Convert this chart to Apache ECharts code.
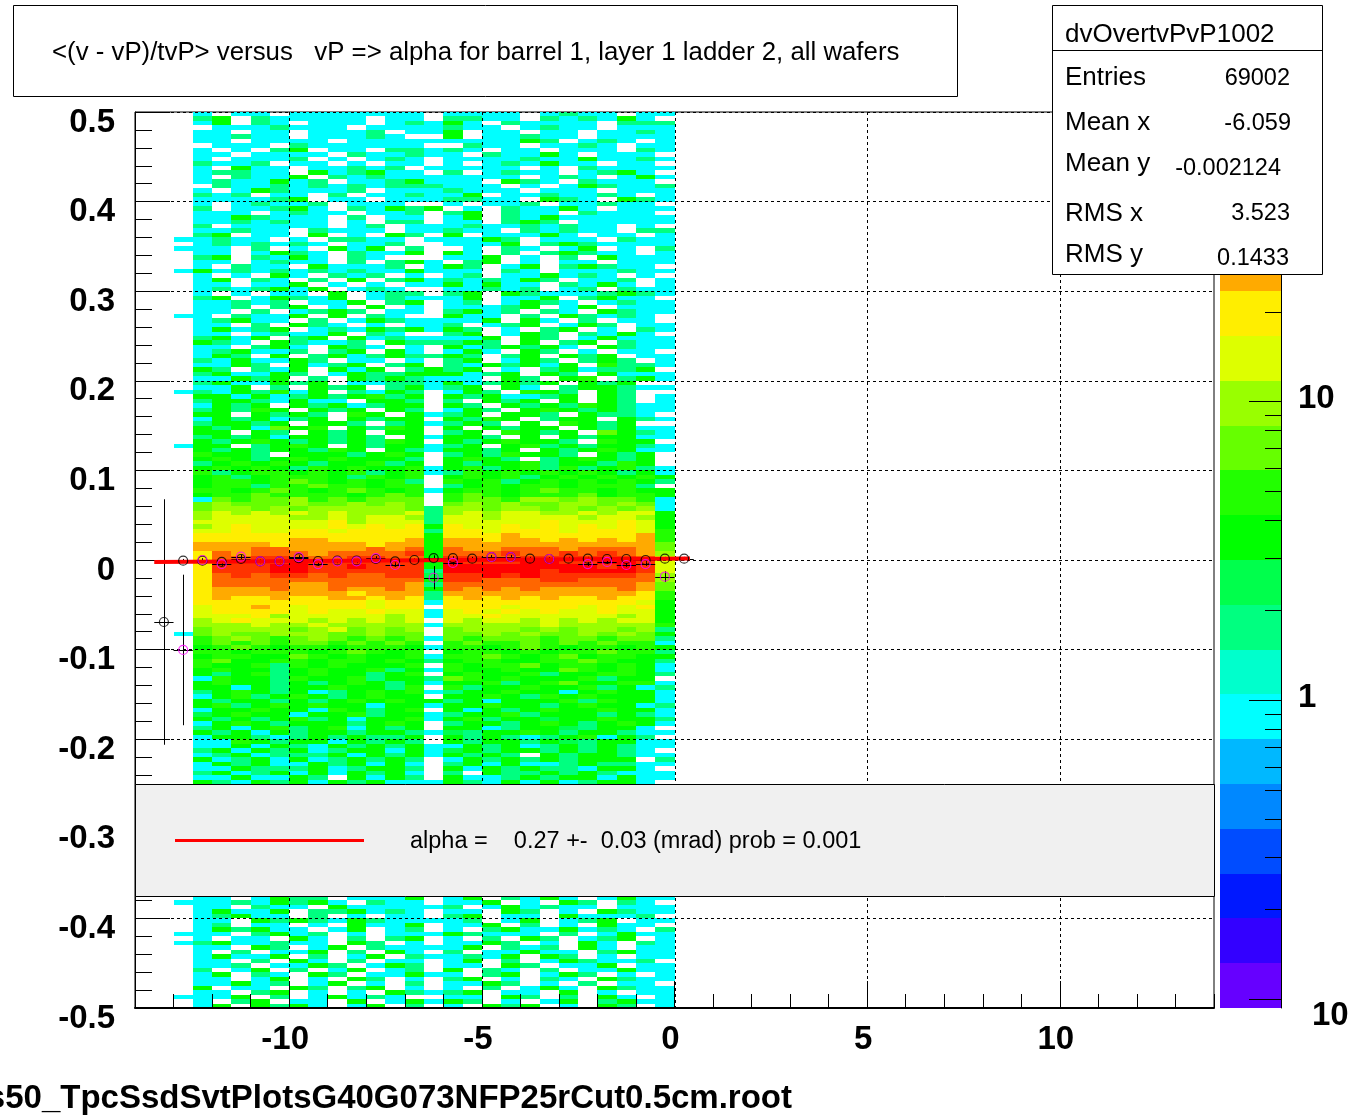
<!DOCTYPE html>
<html>
<head>
<meta charset="utf-8">
<title>dvOvertvPvP1002</title>
<style>
  html, body { margin: 0; background: #fff; }
  #chart { width: 1349px; height: 1120px; }
</style>
<script src="https://cdn.jsdelivr.net/npm/echarts@6/dist/echarts.min.js"></script>
</head>
<body>
<div id="chart"></div>
<script>
/** colour band colours, bottom of the palette to top */
const levelColors = ["#6600ff", "#3300ff", "#0018ff", "#004cff", "#0088ff", "#00b8ff", "#00ffff", "#00ffcc", "#00ff80", "#00ff4c", "#00ff00", "#22ff00", "#66ff00", "#99ff00", "#ddff00", "#ffee00", "#ffaa00", "#ff6600", "#ff3300", "#ff0000"];

/** bin sizes of the 2d histogram */
const binWidth = 0.5;
const binHeight = 0.005;
const firstBinX = -13;

/**
 * colour level per cell, base 36, "." = empty.
 * one row per y bin from 0.5 down, columns from x = -13 to 0:
 * first column, next 12, the sparse column at -6.5, last 12
 */
const upperRows = [
  ". 6.66.6666666 . 6666.6866.66",
  ". 8a.866666.66 . 8866.8686a6.",
  ". 6a.86.666.68 6 a6.86666.888",
  ". .6668666.666 6 866.6866.666",
  ". 66.66.6668.6 6 a.66.66.6686",
  ". 66866.66686. . a.66866.6666",
  ". 66.6666.6666 6 6666a8.686.6",
  ". .666.8666666 . .866.6686.66",
  ". 6.6.8a.66.88 6 86.66.666.86",
  ". 66.6666.8668 6 6.866a6.666.",
  ". 6.6668.6.686 . 6666866a6686",
  ". 8668.66.6.66 . 6.686a66.66.",
  ". 6.a66.66868. 6 6666.6.86666",
  ". 68866.a68a66 . 8.6866.68a6.",
  ". 6.866a.86866 6 6666.686.6a6",
  ". 6866a68.668a 6 66.a86.8666.",
  ". .86686868688 8 666.6.6a8668",
  ". 6.6a86668.66 6 8666.666.666",
  ". 868.66.8.668 6 6a.6686686.6",
  ". 66668a.66.66 6 8866.a86.a86",
  ". 6.68668.666. . 6.668.66866.",
  ". 8.668a6.86a8 a .6.866a6.666",
  ". 666.6866.668 . 8a.866.8666.",
  ". 66a8666.8.66 . 6a.86a666666",
  ". 6686866.6.88 . 66.8a8.66666",
  ". 8.66666.68.6 6 686686866.6.",
  ". 66866.8666.6 6 866.86866.88",
  ". 8a.66.a.6.a8 . a.666a6.66.6",
  "6 6866.6.8866. 6 66a8.666.866",
  ". 6868686.668. . 666a.8a86666",
  "6 66.8.6.a6a.8 . .6.86.6a.6.8",
  ". 66.6a86.866a . a6.8.8a866.6",
  ". 8a.86a6.86.. . 66a.6.8.a666",
  ". 66.6866.8.8a 6 .8a.6.66.666",
  ". 6.866.a6668. 6 a8.6a.8a866.",
  "6 a6868686866a 6 66.86.666866",
  ". 6.6.a6.868.6 . 68.66a686.6.",
  ". 6a.86.8.a.8a 6 8686a8.668.6",
  ". 66.66a.6.6.6 6 a6a66.86a6.6",
  ". 6868a6a.686. . 66868.68.866",
  ". 6.6.66.a.688 . 8a.a86668a86",
  ". 8a.6a86a.686 6 6a.66a.8a66.",
  ". 66868.66a.8a . 68.6a86.6866",
  ". 668.8a.6.a.6 . 6668a.6a.666",
  ". 66.8.68a8.66 . 8a68.86.a866",
  "6 6.866a.a.86. . a66.8.a8686.",
  ". 68a66.8.6a86 6 66a.a6.8.66.",
  ". 66.8.a86.6.6 6 8.68a.6a8.66",
  ". 6a68a.686a8a 6 a8.6.8a.6.86",
  ". 66.6866a.86. . 8a.6a8.86a6.",
  ". 8a6a.8a.a686 6 66a.a8.6a666",
  ". a86.a8668.a8 8 8a8.a.8a.866",
  ". 66.8a6.a86.6 . a68a8a6.a866",
  ". 68a668.8a.a6 . 6a6.a8.6.66.",
  ". 6a8.a.8a68a8 8 a8.8a.a8a.66",
  ". 86a66a8.66.6 . 8a.6a8.8a8.6",
  ". 66a8.a68a.8a . 86a8a6a.b886",
  ". a8.86a.a6a.8 a 8a.6.8a688a.",
  ". 8a66a8.6a88a a a68a.a8.a666",
  ". 66a8a.8.a8a8 6 66.a8.ab.8a6",
  ". 8a66a8a.6688 6 a68a8a.a8a..",
  ". 66a.8.a8a.8a 6 8a.a6.8aa866",
  "6 86a8b6a.86a8 . 6a8.ba8.a8..",
  ". aa6a68a8ab8a . a8a668a.a8.6",
  ". 8aa86a66.aa8 . 8.a8a.a.a8.6",
  ". 6a8a.a8a68aa . a8.a8a8ba866",
  ". 8a8ba.a8a.a8 . 6a8.aba8a866",
  ". aa.a8a8.ba.a 6 8a.aa8.a886.",
  ". 6a8a68a.a8aa . a8ba.8aa.a86",
  ". 8aa8a.aa8.8a 6 8a8.a.ba8a..",
  ". a8a6cab.a8ba . a.a8aa.a8a66",
  ". aa.a8.a8a.aa . 8a.ba8a.ca86",
  ". 8a8a6aa8a8.a 6 aa8.a.a8aa66",
  ". a8aba8a8a8ba . a8abaa8.baa.",
  "6 aa.8aba.a8aa 6 8a.ab8a8aa86",
  ". a8a8aa8ba.a8 6 aa8a.a8aba66",
  ". baa8.aaa8aba . 8a8baa8.a8a.",
  ". aba8ababaaa8 . aba8.8aba8a.",
  ". 8ababa8aab8a . a8aab8aa8ba.",
  ". ababa8babaab 6 ab8ab8b8ab86",
  ". b8abbabab8ab 6 8babababa8a6",
  ". ab8abbba8bab . abab8abababa",
  ". abbabcbabab8 . bab8abababa8",
  ". abb8bbcbbabb . 8ababbabbb8.",
  ". bbabcbabcbab 6 abbabcbbabaa",
  ". abbcbbbbabcb . bcbabbbcabba",
  ". 6cbccdbcbccc . bccbddcdccb6",
  ". cdcccdccdcdc . cdcdccddcdc6",
  ". cddcdcdddddc 8 ddcddcdcdcd6",
  ". dededededdde 8 dedeeddedeea",
  ". deeeeddedeed 8 eedeeeedeeda",
  ". eeeeeeefdeee 8 eeeeefeeefea",
  ". defeeeefefef a feefefefefea",
  ". eefeeffeffff 8 ffefffefffeb",
  ". ffffffffffff a fffgffffffgb",
  ". fffffggffffg a ggfggfgfgfgb",
  ". ggggfggggfgg a gggggggggggc",
  ". ggghhgggghgh a hgghhhghhhgc",
  ". fhghhhghhhhi a hhhihhihihgd",
  ". fhhiihhhiihh a iihhiiiiiihe",
  ". fiiiijiiiiii a jiiijjiijjie",
  ". fiiijjiijiii a jjjjjjjjijie",
  ". fiiijjiiiiii 8 jjjjjijjjjie",
  ". fhihiihihhii 9 iijijiiiiihd",
  ". fhhhhhhhhhhh a iihhhiihhhhd",
  ". fhhhhgghhhhg 8 hhhhhhhhhhgc",
  ". fggghgghgghg a hghghgggghgc",
  ". fgggggggfggg 8 ggggggggggfb",
  ". fgffgffggfgf 8 fgfgfgffgffb",
  ". fffffffffeff 6 ffffffffffea",
  ". effgfefffeff . fffefffefefa",
  ". effffefeefee 6 efefefeefeea",
  ". eeefdeeeeede 6 eefeeeeeedea",
  ". defeeededede . edeedededeea",
  ". dddeddeddddd 6 dddddedddddb",
  ". cddddcdecdcd . cdddcdcddcd8",
  "6 cdccdddccdcc . ccdcdccdcdca",
  ". bcdcbcdcbcbc 6 cbcccbccbcc8",
  ". bcbcbccbcbcb . bcbbcbcbcbb6",
  ". abcbabbabbba 6 bbabcbabbaba",
  ". bbabbbabcbab . abbababbcbb8",
  ". abbaacbabaab 6 bbcbabcabbaa",
  ". bcaabbabbaba 8 abbaabbcbaa8",
  ". baab8babaaab . babbcabbaba6",
  ". abaa8abaab8a 6 baabaacbaba6",
  ". a8ab8abaa8ab . abaab8aabba8",
  ". 6baa8baab8aa 8 cbabaaab8aa.",
  ". abaa8a8aba8a 6 aab8abcaabb6",
  ". aa6a8aabaa8b . b8aabaab8a68",
  ". 8aba8a68abab 6 8aabaa6abaa6",
  ". 6ab8aba8abaa . aaba8babaaa6",
  ". a8aa8a8ababa a 8a6aaab8baa6",
  ". ab8ababaa6aa 6 aabaa8abaa68",
  ". 6aabaa6ba8ab . a6a8abaabaa6",
  ". 9abaa6aab8aa 6 8aab8aaa8a86",
  ". a8a8ab8a6aab 6 ab8aa9aabaa8",
  ". 6aba8aaa8aba . 8aa8aba8aba6",
  ". 8a6ab8ab6a8a . aa68aa98aa6.",
  ". a8a6a8aa8aa8 6 98aaba8aa866",
  ". 6aa868a8a88a . a8a868ab6a8.",
  ". 66ba8aa6a8a8 . a8aa8a98aa66",
  ". 66a6a86a8a8a 6 6a8a68a8a866",
  ". 8a6a8a68aa6a 6 9a8aa8a8a86.",
  ". 68a6888a6a8a 6 a8a8.a8aa866",
  ". a68a6a68a8a8 . 6a8a8a8aaa.8",
  ". 6a8a66a8a6a6 . 8a6a668a8866",
  ". 66a888a68aa8 . a6a8a886aa6.",
  ". 8a68a6a6a8a6 . 8.a88a8a8666",
  ". 66a66a8.a6a8 . a668a8aa6a66",
  ". a86a8a6a8a66 6 a86a6a68aa6.",
  ". 6a86a66a66a6 . 66a86.6a86a8"
];

/** rows below the stats legend, y = -0.375 to -0.5 */
const lowerRows = [
  ". 66.6a88.666a . 6a.86a6.6a66",
  "6 6686a8a6.866 . 66a.6.a8.86.",
  ". 66.866.a6666 6 8.6a6866.666",
  ". 6a66a.88a686 . 66.a8.6.a866",
  ". 68a66.8.6.66 . 8a.66.a6668.",
  ". 66.a8a86a866 6 68.6a.68a.66",
  ". 68.66.6.a66a . 66a.8.6.a66.",
  ". 6a8a66.6a.68 . 6.8a66a686.8",
  "6 66.8a68.6.66 6 a8666.8.6a66",
  ". 6.66.a6.8.8a . 6.8.a8.68a.6",
  "6 8a66866.a8.6 . 66a8.6.a6.86",
  ". 66.a8.6a.866 6 6a.868.a6.66",
  ". 6.8.66a.8.a6 . 8.66a66.8a66",
  ". 6a66a.8.6a.8 6 686a.a8.6.66",
  ". 66.8.a6.8.66 . 6a.8.6a8668.",
  ". 668.66a8.6a8 . 66.a8.66a.66",
  ". 8.6a.8.6a.68 . a.86.8.66a66",
  ". 6a.86.a8.66a 6 6.8a.6a8.6.6",
  ". 66.6a.6.a8.6 . 8a.6.86.a866",
  ". 66a68.6a.6.8 . 66a8.6.8.66.",
  ". a.66.a8.8a.6 . 6.8.6a6.a866",
  ". 66.8a.6.6.a8 6 8a.66.a.6.66",
  "6 66a.8.6a686. . 66.a8.8.a6.6",
  ". 6.8a.66.a.6a 6 a8.6.6a.8a66",
  ". 6a.a8a6.6a.8 . 6.a8a.6.a8.6"
];

/** profile points, black */
const blackX = [-13.25, -12.75, -12.25, -11.75, -11.25, -10.75, -10.25, -9.75, -9.25, -8.75, -8.25, -7.75, -7.25, -6.75, -6.25, -5.75, -5.25, -4.75, -4.25, -3.75, -3.25, -2.75, -2.25, -1.75, -1.25, -0.75, -0.25, 0.25];
const blackY = [-0.0692, -0.0008, -0.0008, -0.0022, 0.0011, -0.0015, -0.0015, 0.0022, -0.0011, -0.0008, -0.0008, 0.0011, -0.0015, 0, 0.0022, 0.0022, 0.0015, 0.0033, 0.0033, 0.0015, 0.0011, 0.0015, 0.0015, 0.0011, 0.0011, 0, 0.0015, 0.0015];
const blackErr = [0.137, 0.002, 0.002, 0.002, 0.002, 0.002, 0.002, 0.002, 0.002, 0.002, 0.002, 0.002, 0.002, 0.002, 0.003, 0.002, 0.002, 0.002, 0.002, 0.002, 0.002, 0.002, 0.002, 0.002, 0.002, 0.002, 0.002, 0.002];

/** profile points, magenta; null where none can be seen */
const magentaX = [-12.75, -12.25, -11.75, -11.25, -10.75, -10.25, -9.75, -9.25, -8.75, -8.25, -7.75, -7.25, -6.75, -6.25, -5.75, -5.25, -4.75, -4.25, -3.75, -3.25, -2.75, -2.25, -1.75, -1.25, -0.75, -0.25];
const magentaY = [-0.1004, 0, -0.0045, 0.0037, -0.0015, -0.0015, 0.0033, -0.0045, -0.0015, -0.0015, 0.0022, -0.0056, null, -0.0198, -0.0033, null, 0.0033, 0.0033, null, 0.0011, null, -0.0045, -0.0022, -0.0056, -0.0045, -0.0186];
const magentaErr = [0.084, 0.002, 0.002, 0.002, 0.002, 0.002, 0.002, 0.002, 0.002, 0.002, 0.002, 0.002, 0, 0.013, 0.002, 0, 0.002, 0.002, 0, 0.002, 0, 0.002, 0.002, 0.002, 0.002, 0.006];

/** straight line fit */
const fitX = [-13.5, 0.4];
const fitY = [-0.0022, 0.0017];

/** axis ticks */
const xMajorTicks = [-10, -5, 0, 5, 10];
const colorMajorTicks = [0.1, 1, 10];
const colorMinorTicks = [0.2, 0.3, 0.4, 0.5, 0.6, 0.7, 0.8, 0.9, 2, 3, 4, 5, 6, 7, 8, 9, 20, 30, 40, 50, 60, 70, 80, 90];

const sans = "Liberation Sans";

/** turn the typed rows into cells [x, y top, level] */
const cells = [];
const addRows = (rows, firstRow) => {
  rows.forEach((row, r) => {
    row.replace(/ /g, "").split("").forEach((ch, c) => {
      if (ch === ".") return;
      cells.push([firstBinX + c * binWidth, 0.5 - (firstRow + r) * binHeight, parseInt(ch, 36)]);
    });
  });
};
addRows(upperRows, 0);
addRows(lowerRows, 175);

/** histogram cell, snapped to whole pixels like the original */
const renderCell = (params, api) => {
  const x = api.value(0);
  const y = api.value(1);
  const a = api.coord([x, y]);
  const b = api.coord([x + binWidth, y - binHeight]);
  const x0 = Math.round(a[0]);
  const y0 = Math.round(a[1]);
  return {
    type: "rect",
    shape: { x: x0, y: y0, width: Math.round(b[0]) - x0, height: Math.round(b[1]) - y0 },
    style: { fill: levelColors[api.value(2)] },
  };
};

/** dashed vertical grid line */
const renderGridX = (params, api) => {
  const v = api.value(0);
  const a = api.coord([v, 0.5]);
  const b = api.coord([v, -0.5]);
  return {
    type: "line",
    shape: { x1: Math.round(a[0]) + 0.5, y1: a[1], x2: Math.round(a[0]) + 0.5, y2: b[1] },
    style: { stroke: "#000", lineWidth: 1, lineDash: [3, 3] },
  };
};

/** error bars: one vertical, one horizontal, on whole pixels */
const renderError = (params, api) => {
  const x = api.value(0);
  const y = api.value(1);
  const err = api.value(2);
  const left = api.coord([x - binWidth / 2, y]);
  const right = api.coord([x + binWidth / 2, y]);
  const top = api.coord([x, y + err]);
  const bottom = api.coord([x, y - err]);
  const px = Math.round(top[0]) + 0.5;
  const py = Math.round(left[1]) + 0.5;
  return {
    type: "group",
    children: [
      { type: "line", shape: { x1: left[0], y1: py, x2: right[0], y2: py }, style: { stroke: "#000", lineWidth: 1 } },
      { type: "line", shape: { x1: px, y1: top[1], x2: px, y2: bottom[1] }, style: { stroke: "#000", lineWidth: 1 } },
    ],
  };
};

/** colour band of the palette bar */
const renderBand = (params, api) => {
  const i = api.value(0);
  const a = api.coord([0, i + 1]);
  const b = api.coord([1, i]);
  return {
    type: "rect",
    shape: { x: a[0], y: Math.round(a[1]), width: b[0] - a[0], height: Math.round(b[1]) - Math.round(a[1]) },
    style: { fill: levelColors[i] },
  };
};

/** tick on the palette bar, from the right edge inwards */
const renderColorTick = (size) => (params, api) => {
  const p = api.coord([1, api.value(0)]);
  const y = Math.round(p[1]) + 0.5;
  return {
    type: "line",
    shape: { x1: p[0] - size, y1: y, x2: p[0], y2: y },
    style: { stroke: "#000", lineWidth: 1 },
  };
};

const pairs = (xs, ys, errs) => xs.map((x, i) => [x, ys[i], errs[i]]).filter((d) => d[1] !== null);

const tickFont = { fontFamily: sans, fontWeight: "bold", fontSize: 33, color: "#000" };
const boxText = (text, x, y, size, extra) => ({
  type: "text",
  z: 101,
  style: { text, x, y: y + 2, fill: "#000", font: size + "px " + sans, verticalAlign: "middle", align: "left", ...extra },
});

const option = {
  animation: false,
  backgroundColor: "#fff",
  grid: [
    { left: 135, top: 112, width: 1079, height: 896, show: true, borderColor: "#000", borderWidth: 1, backgroundColor: "#fff" },
    { left: 1220, top: 112, width: 61, height: 896 },
  ],
  xAxis: [
    {
      type: "value",
      position: "bottom",
      min: -14,
      max: 14,
      z: 3,
      axisLine: { show: true, onZero: false, lineStyle: { color: "#000", width: 2 } },
      axisTick: { show: true, inside: true, length: 27, customValues: xMajorTicks, lineStyle: { color: "#000" } },
      axisLabel: { ...tickFont, customValues: xMajorTicks, margin: 15, padding: [0, 8, 0, 0] },
      splitLine: { show: false },
    },
    {
      type: "value",
      position: "bottom",
      min: -14,
      max: 14,
      interval: 1,
      z: 3,
      axisLine: { show: false, onZero: false },
      axisTick: { show: true, inside: true, length: 14, lineStyle: { color: "#000" } },
      axisLabel: { show: false },
      splitLine: { show: false },
    },
    { type: "value", gridIndex: 1, min: 0, max: 1, show: false },
  ],
  yAxis: [
    {
      type: "value",
      min: -0.5,
      max: 0.5,
      interval: 0.1,
      z: 3,
      axisLine: { show: true, onZero: false, lineStyle: { color: "#000", width: 1 } },
      axisTick: { show: true, inside: true, length: 35, lineStyle: { color: "#000" } },
      minorTick: { show: true, splitNumber: 5, length: 17, lineStyle: { color: "#000" } },
      axisLabel: { ...tickFont, margin: 20, verticalAlign: "top", lineHeight: 21, formatter: (v) => String(Math.round(v * 10) / 10) },
      splitLine: { show: true, lineStyle: { color: "#000", width: 1, type: [3, 3] } },
    },
    { type: "value", gridIndex: 1, min: 0, max: 20, show: false },
    {
      type: "log",
      gridIndex: 1,
      position: "right",
      min: 0.0935,
      max: 93,
      axisLine: { show: true, onZero: false, lineStyle: { color: "#000", width: 1 } },
      axisTick: { show: false },
      axisLabel: {
        ...tickFont,
        margin: 17,
        verticalAlign: "bottom",
        lineHeight: 5,
        formatter: (v) => (Math.abs(v - 1) < 1e-6 || Math.abs(v - 10) < 1e-6 ? String(Math.round(v)) : ""),
      },
      splitLine: { show: false },
    },
  ],
  series: [
    {
      type: "custom",
      name: "counts",
      renderItem: renderCell,
      data: cells,
      z: 2,
      silent: true,
    },
    {
      type: "custom",
      name: "x grid",
      renderItem: renderGridX,
      data: xMajorTicks.map((v) => [v]),
      z: 3,
      silent: true,
    },
    {
      type: "custom",
      name: "black errors",
      renderItem: renderError,
      data: pairs(blackX, blackY, blackErr),
      z: 4,
      silent: true,
    },
    {
      type: "custom",
      name: "magenta errors",
      renderItem: renderError,
      data: pairs(magentaX, magentaY, magentaErr),
      z: 4,
      silent: true,
    },
    {
      type: "line",
      name: "fit",
      data: fitX.map((x, i) => [x, fitY[i]]),
      showSymbol: false,
      lineStyle: { color: "#ff0000", width: 4 },
      z: 5,
      silent: true,
    },
    {
      type: "scatter",
      name: "black",
      data: pairs(blackX, blackY, blackErr).map((d) => [d[0], d[1]]),
      symbol: "circle",
      symbolSize: 9,
      itemStyle: { color: "transparent", borderColor: "#000", borderWidth: 1.2 },
      z: 6,
      silent: true,
    },
    {
      type: "scatter",
      name: "magenta",
      data: pairs(magentaX, magentaY, magentaErr).map((d) => [d[0], d[1]]),
      symbol: "circle",
      symbolSize: 9,
      itemStyle: { color: "transparent", borderColor: "#ff00ff", borderWidth: 1.2 },
      z: 7,
      silent: true,
    },
    {
      type: "custom",
      name: "palette",
      xAxisIndex: 2,
      yAxisIndex: 1,
      renderItem: renderBand,
      data: levelColors.map((c, i) => [i]),
      z: 2,
      silent: true,
    },
    {
      type: "custom",
      name: "palette major ticks",
      xAxisIndex: 2,
      yAxisIndex: 2,
      renderItem: renderColorTick(32),
      data: colorMajorTicks.map((v) => [v]),
      z: 3,
      silent: true,
    },
    {
      type: "custom",
      name: "palette minor ticks",
      xAxisIndex: 2,
      yAxisIndex: 2,
      renderItem: renderColorTick(16),
      data: colorMinorTicks.map((v) => [v]),
      z: 3,
      silent: true,
    },
  ],
  graphic: {
    z: 100,
    elements: [
      /** title box */
      { type: "rect", z: 100, shape: { x: 13.5, y: 5.5, width: 944, height: 91 }, style: { fill: "#fff", stroke: "#000", lineWidth: 1 } },
      boxText("<(v - vP)/tvP> versus   vP => alpha for barrel 1, layer 1 ladder 2, all wafers", 52, 51, 25.8),

      /** stats box */
      { type: "rect", z: 100, shape: { x: 1052.5, y: 5.5, width: 270, height: 269 }, style: { fill: "#fff", stroke: "#000", lineWidth: 1 } },
      { type: "line", z: 101, shape: { x1: 1052.5, y1: 50.5, x2: 1322.5, y2: 50.5 }, style: { stroke: "#000", lineWidth: 1 } },
      boxText("dvOvertvPvP1002", 1065, 33, 26),
      boxText("Entries", 1065, 76, 26),
      boxText("69002", 1290, 77, 23.5, { align: "right" }),
      boxText("Mean x", 1065, 121, 26),
      boxText("-6.059", 1291, 122, 23.5, { align: "right" }),
      boxText("Mean y", 1065, 162, 26),
      boxText("-0.002124", 1281, 167, 23.5, { align: "right" }),
      boxText("RMS x", 1065, 212, 26),
      boxText("3.523", 1290, 212, 23.5, { align: "right" }),
      boxText("RMS y", 1065, 253, 26),
      boxText("0.1433", 1289, 257, 23.5, { align: "right" }),

      /** fit legend */
      { type: "rect", z: 100, shape: { x: 135.5, y: 784.5, width: 1079, height: 112 }, style: { fill: "#f0f0f0", stroke: "#000", lineWidth: 1 } },
      { type: "line", z: 101, shape: { x1: 175, y1: 840.5, x2: 364, y2: 840.5 }, style: { stroke: "#ff0000", lineWidth: 3 } },
      boxText("alpha =    0.27 +-  0.03 (mrad) prob = 0.001", 410, 840, 23.5),

      /** palette label the axis leaves out, and the file name */
      { type: "text", z: 101, style: { text: "10", x: 1312, y: 1016, fill: "#000", font: "bold 33px " + sans, verticalAlign: "middle" } },
      { type: "text", z: 101, style: { text: "s50_TpcSsdSvtPlotsG40G073NFP25rCut0.5cm.root", x: 792, y: 1099, fill: "#000", font: "bold 33px " + sans, verticalAlign: "middle", align: "right" } },
    ],
  },
};

const chart = echarts.init(document.getElementById("chart"));
chart.setOption(option);
</script>
</body>
</html>
